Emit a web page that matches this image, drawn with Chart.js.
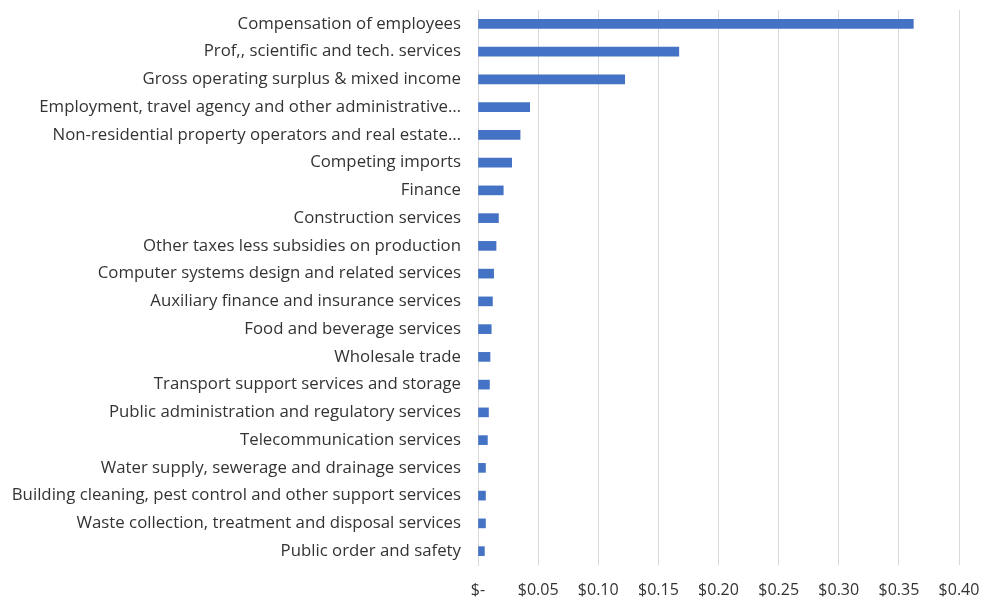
<!DOCTYPE html>
<html><head><meta charset="utf-8">
<script src="https://cdn.jsdelivr.net/npm/chart.js@4/dist/chart.umd.min.js"></script>
<style>html,body{margin:0;padding:0;background:#fff}#wrap{width:987px;height:597px}</style>
</head><body><div id="wrap"><canvas id="c"></canvas></div>
<script>
const categories = [
  "Compensation of employees",
  "Prof,, scientific and tech. services",
  "Gross operating surplus & mixed income",
  "Employment, travel agency and other administrative…",
  "Non-residential property operators and real estate…",
  "Competing imports",
  "Finance",
  "Construction services",
  "Other taxes less subsidies on production",
  "Computer systems design and related services",
  "Auxiliary finance and insurance services",
  "Food and beverage services",
  "Wholesale trade",
  "Transport support services and storage",
  "Public administration and regulatory services",
  "Telecommunication services",
  "Water supply, sewerage and drainage services",
  "Building cleaning, pest control and other support services",
  "Waste collection, treatment and disposal services",
  "Public order and safety"
];
const values = [0.362, 0.167, 0.122, 0.043, 0.035, 0.028, 0.021, 0.017, 0.015, 0.013, 0.012, 0.011, 0.010, 0.0095, 0.0087, 0.0078, 0.0062, 0.0062, 0.0062, 0.0053];
const xTicks = [0, 0.05, 0.10, 0.15, 0.20, 0.25, 0.30, 0.35, 0.40];

new Chart(document.getElementById('c'), {
  type: 'bar',
  data: { labels: categories, datasets: [{ data: values, backgroundColor: '#4472C4', barThickness: 9 }] },
  options: {
    indexAxis: 'y', responsive: true, maintainAspectRatio: false, animation: false,
    layout: { padding: { left: 0, right: 28, top: 10, bottom: 0 } },
    plugins: { legend: { display: false }, tooltip: { enabled: false } },
    scales: {
      x: {
        min: 0, max: 0.4,
        afterBuildTicks: s => { s.ticks = xTicks.map(v => ({ value: v })); },
        afterFit: s => { s.height = 32; s.paddingLeft = 0; s.paddingRight = 0; },
        grid: { color: '#d9d9d9', lineWidth: 1, drawTicks: false },
        border: { display: false },
        ticks: { color: '#333333', font: { family: 'Open Sans', size: 16 }, padding: 16,
          callback: v => v === 0 ? '$-' : '$' + Number(v).toFixed(2) }
      },
      y: {
        afterFit: s => { s.width = 478; s.paddingTop = 0; s.paddingBottom = 0; },
        grid: { display: false, drawTicks: false },
        border: { display: true, color: '#d9d9d9' },
        ticks: { color: '#333333', font: { family: 'Open Sans', size: 16.8 }, padding: 17, autoSkip: false }
      }
    }
  }
});
</script></body></html>
